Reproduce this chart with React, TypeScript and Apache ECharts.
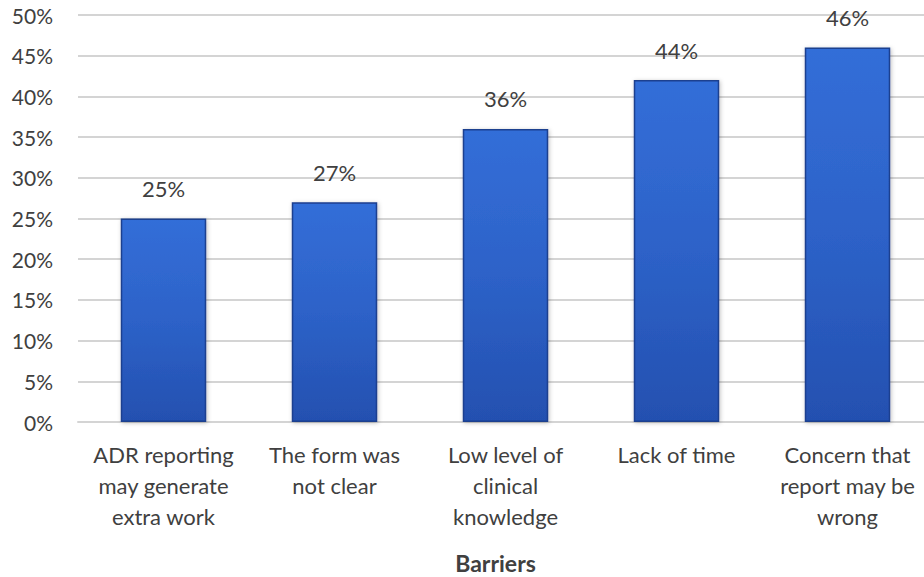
import React, { useEffect, useRef } from "react";
import * as echarts from "echarts";

const categories = [
  "ADR reporting\nmay generate\nextra work",
  "The form was\nnot clear",
  "Low level of\nclinical\nknowledge",
  "Lack of time",
  "Concern that\nreport may be\nwrong",
];
const values = [25, 27, 36, 42, 46];
const valueLabels = ["25%", "27%", "36%", "44%", "46%"];
const yTicks = { min: 0, max: 50, interval: 5 };
const axisName = "Barriers";

export default function App() {
  const ref = useRef<HTMLDivElement>(null);
  useEffect(() => {
    if (!ref.current) return;
    const chart = echarts.init(ref.current, null, { renderer: "svg" });
    const font = "Lato, 'Open Sans', sans-serif";
    chart.setOption({
      animation: false,
      grid: {
        left: 78,
        width: 855,
        top: 15,
        height: 407,
        containLabel: false,
        outerBoundsMode: "none",
      },
      xAxis: {
        type: "category",
        data: categories,
        axisTick: { show: false },
        axisLine: { lineStyle: { color: "#d4d4d4", width: 2 } },
        axisLabel: {
          color: "#404040",
          fontSize: 22,
          fontFamily: font,
          lineHeight: 31,
          margin: 17,
          interval: 0,
        },
        name: axisName,
        nameLocation: "middle",
        nameGap: 129,
        nameTextStyle: {
          color: "#404040",
          fontSize: 23,
          fontWeight: "bold",
          fontFamily: font,
          padding: [0, 20, 0, 0],
        },
      },
      yAxis: {
        type: "value",
        min: yTicks.min,
        max: yTicks.max,
        interval: yTicks.interval,
        axisLine: { show: false },
        axisTick: { show: false },
        splitLine: { lineStyle: { color: "#d4d4d4", width: 2 } },
        axisLabel: {
          color: "#404040",
          fontSize: 21,
          fontFamily: font,
          margin: 25,
          formatter: (v: number) => `${v}%`,
        },
      },
      series: [
        {
          type: "bar",
          data: values,
          barWidth: "50%",
          itemStyle: {
            color: new echarts.graphic.LinearGradient(0, 0, 0, 1, [
              { offset: 0, color: "#336ed8" },
              { offset: 0.5, color: "#2d62c8" },
              { offset: 1, color: "#2450b0" },
            ]),
            borderColor: "#1b3f8f",
            borderWidth: 1.5,
            shadowColor: "rgba(0,0,0,0.25)",
            shadowBlur: 4,
            shadowOffsetX: 1,
            shadowOffsetY: 1,
          },
          label: {
            show: true,
            position: "top",
            distance: 19,
            color: "#404040",
            fontSize: 22,
            fontFamily: font,
            formatter: (p: any) => valueLabels[p.dataIndex],
          },
        },
      ],
    });
    return () => chart.dispose();
  }, []);
  return (
    <div
      ref={ref}
      style={{ position: "absolute", left: 0, top: 0, width: 924, height: 577, background: "#fff" }}
    />
  );
}
